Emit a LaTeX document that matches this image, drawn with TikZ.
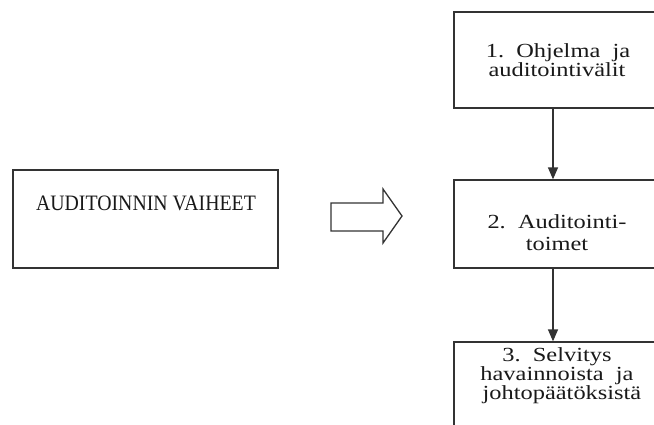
\documentclass[tikz,border=0pt]{standalone}
\usepackage{fontspec}
\setmainfont{Liberation Serif}
\newfontfamily\capsfont[FakeStretch=0.9]{Liberation Serif}
\newfontfamily\widefont[FakeStretch=1.22]{Liberation Serif}
\usetikzlibrary{arrows.meta}
\definecolor{ink}{HTML}{333333}
\begin{document}
\begin{tikzpicture}[x=1pt,y=-1pt,
  box/.style={draw=ink,line width=1.3pt,inner sep=0pt},
  txt/.style={inner sep=0pt,text=black!90,font=\widefont\fontsize{20}{20}\selectfont},
  conn/.style={draw=ink,line width=1.3pt,-{Triangle[length=12pt,width=10pt]}}]
\useasboundingbox (0,0) rectangle (654,424);
\clip (0,0) rectangle (654,424);
\fill[white] (0,0) rectangle (654,424);
% left box
\node[box,minimum width=265pt,minimum height=98pt] (lb) at (145.5,219) {};
\node[inner sep=0pt,anchor=base,text=black!90,font=\capsfont\fontsize{22}{24}\selectfont] (lt) at (146,210) {AUDITOINNIN VAIHEET};
% hollow arrow
\draw[ink,line width=1.3pt,line join=miter] (331,203) -- (383,203) -- (383,189) -- (402,216) -- (383,243) -- (383,231) -- (331,231) -- cycle;
% right boxes
\node[box,minimum width=206pt,minimum height=96pt] (b1) at (557,60) {};
\node[box,minimum width=206pt,minimum height=88pt] (b2) at (557,224) {};
\node[box,minimum width=206pt,minimum height=110pt] (b3) at (557,397) {};
\node[txt,anchor=base] (t1a) at (558,57) {1.\ \ Ohjelma\ \ ja};
\node[txt,anchor=base] (t1b) at (557,76) {auditointivälit};
\node[txt,anchor=base] (t2a) at (557,228) {2.\ \ Auditointi-};
\node[txt,anchor=base] (t2b) at (557,250) {toimet};
\node[txt,anchor=base] (t3a) at (557,361) {3.\ \ Selvitys};
\node[txt,anchor=base] (t3b) at (557,380) {havainnoista\ \ ja};
\node[txt,anchor=base] (t3c) at (562,399) {johtopäätöksistä};
\coordinate (ax) at (553,0);
\draw[conn] (b1.south -| ax) -- (b2.north -| ax);
\draw[conn] (b2.south -| ax) -- (b3.north -| ax);
\end{tikzpicture}
\end{document}
